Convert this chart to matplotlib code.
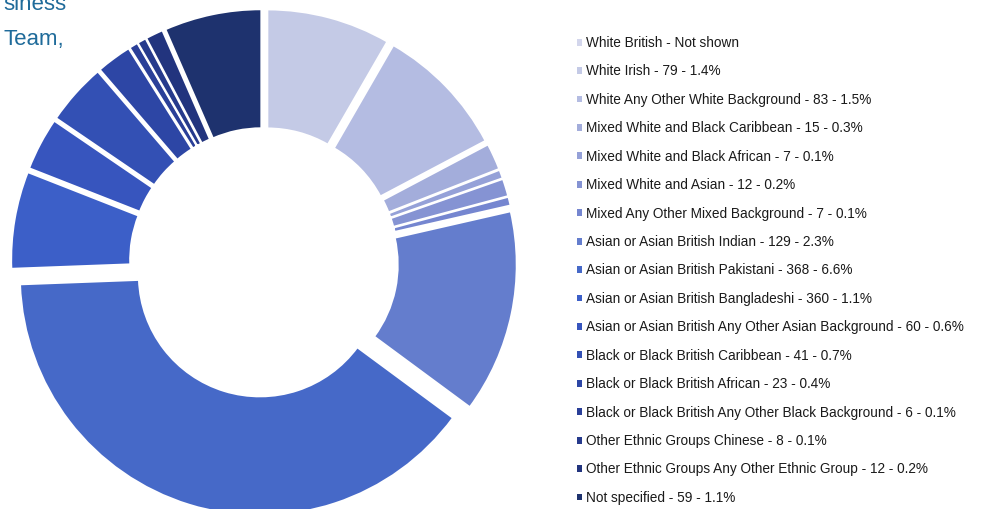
import matplotlib
matplotlib.use("Agg")
import matplotlib.pyplot as plt
from matplotlib.patches import Patch

# ethnic groups, stated counts and share of all records
groups = [
    "White British", "White Irish", "White Any Other White Background",
    "Mixed White and Black Caribbean", "Mixed White and Black African",
    "Mixed White and Asian", "Mixed Any Other Mixed Background",
    "Asian or Asian British Indian", "Asian or Asian British Pakistani",
    "Asian or Asian British Bangladeshi",
    "Asian or Asian British Any Other Asian Background",
    "Black or Black British Caribbean", "Black or Black British African",
    "Black or Black British Any Other Black Background",
    "Other Ethnic Groups Chinese", "Other Ethnic Groups Any Other Ethnic Group",
    "Not specified",
]
counts = [None, 79, 83, 15, 7, 12, 7, 129, 368, 360, 60, 41, 23, 6, 8, 12, 59]
percents = [None, 1.4, 1.5, 0.3, 0.1, 0.2, 0.1, 2.3, 6.6, 1.1, 0.6, 0.7, 0.4,
            0.1, 0.1, 0.2, 1.1]
colors = ["#d3d6ec", "#c4cae6", "#b4bce2", "#a3addb", "#95a1d8", "#8593d3",
          "#7586d0", "#647dcd", "#4669c8", "#3c5fc8", "#3755be", "#3350b4",
          "#2d46a5", "#2a3f98", "#263a8c", "#22347e", "#1e326e"]

labels = []
for g, c, p in zip(groups, counts, percents):
    if c is None:
        labels.append(f"{g} - Not shown")
    else:
        labels.append(f"{g} - {c} - {p}%")

# White British is left out of the ring
ring_vals = percents[1:]
ring_cols = colors[1:]
explode = [13] * len(ring_vals)
explode[7] = 14  # Pakistani

W, H = 981, 509
fig = plt.figure(figsize=(W / 100, H / 100), dpi=100)
ax = fig.add_axes([0, 0, 1, 1])

ax.pie(ring_vals, colors=ring_cols, startangle=90, counterclock=False,
       center=(264, H - 262), radius=240, explode=explode,
       wedgeprops=dict(width=119, edgecolor="white", linewidth=1.4))

ax.set_xlim(0, W)
ax.set_ylim(0, H)
ax.set_aspect("auto")
ax.axis("off")

handles = [Patch(facecolor=c, edgecolor="none") for c in colors]
fig.legend(handles, labels, loc="upper left",
           bbox_to_anchor=(577 / W, (H - 36) / H), frameon=False,
           prop={"family": "Liberation Sans", "size": 9.8},
           handlelength=0.4, handleheight=0.4, handletextpad=0.25,
           labelspacing=1.06, borderpad=0, borderaxespad=0,
           labelcolor="#1a1a1a")

# text running in from the surrounding page
fig.text(3 / W, (H - 10) / H, "siness", color="#1f6b9a", fontsize=16,
         family="Liberation Sans", va="baseline")
fig.text(3 / W, (H - 45) / H, "Team,", color="#1f6b9a", fontsize=16,
         family="Liberation Sans", va="baseline")

fig.savefig("out.png", dpi=100)
